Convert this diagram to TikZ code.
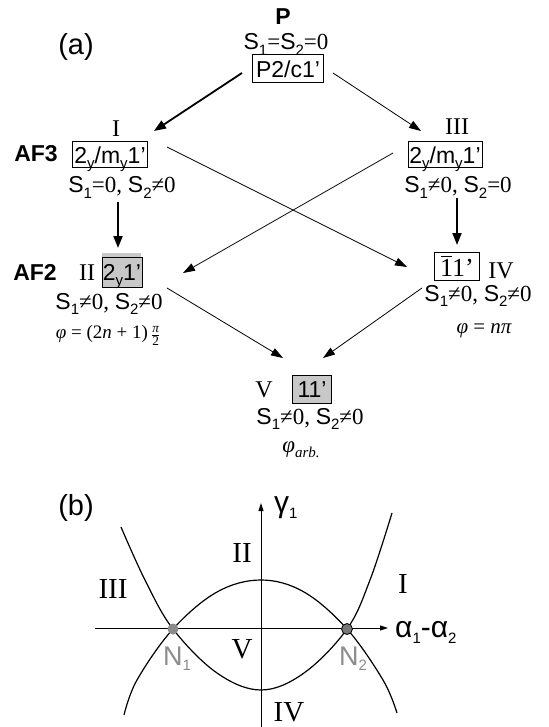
\documentclass[tikz,border=0pt]{standalone}
\usepackage{fontspec}
\usepackage{amsmath}
\setmainfont{Liberation Serif}
\newfontfamily\arial{Liberation Sans}
\usetikzlibrary{arrows.meta}
\newcommand{\lsub}[1]{\raisebox{-0.22em}{\fontsize{15}{15}\selectfont #1}}
\newcommand{\Sx}[1]{{\arial S\lsub{#1}}}
\newcommand{\pihalf}{\,\raisebox{-0.2ex}{$\genfrac{}{}{0.5pt}{1}{\text{\itshape π}}{\text{2}}$}}
\newcommand{\barone}{\makebox[0pt][l]{\hspace{0.04em}\raisebox{0.73em}{\rule{0.42em}{0.8pt}}}1}
\definecolor{boxgray}{HTML}{C8C8C8}
\definecolor{ngray}{HTML}{8A8A8A}
\definecolor{ndark}{HTML}{777777}
\definecolor{lgray}{HTML}{8C8C8C}
\begin{document}
\begin{tikzpicture}[x=1pt,y=-1pt,
  txt/.style={inner sep=0pt, anchor=base, font=\fontsize{23}{27}\selectfont},
  sans/.style={inner sep=0pt, anchor=base, font=\fontsize{23}{27}\selectfont\arial},
  bsans/.style={inner sep=0pt, anchor=base, font=\fontsize{23}{27}\selectfont\arial\bfseries},
  roman/.style={inner sep=0pt, anchor=base, font=\fontsize{24}{28}\selectfont},
  phitxt/.style={inner sep=0pt, anchor=base, font=\fontsize{20}{24}\selectfont},
  sgbox/.style={draw=black, line width=1pt, inner sep=0pt, anchor=center,
     text height=16.5pt, text depth=0pt, font=\fontsize{23}{27}\selectfont\arial},
  graybox/.style={sgbox, fill=boxgray},
  thk/.style={line width=1.8pt, -{Triangle[length=12pt,width=9pt]}},
  thn/.style={line width=0.8pt, -{Triangle[length=12pt,width=8pt]}},
  axis/.style={line width=0.9pt, -{Triangle[length=8pt,width=5pt]}},
  curve/.style={line width=1.2pt},
  blab/.style={inner sep=0pt, anchor=base, font=\fontsize{29}{33}\selectfont},
  bsanslab/.style={inner sep=0pt, anchor=base west, font=\fontsize{30}{34}\selectfont\arial},
  nlab/.style={inner sep=0pt, anchor=base, text=lgray, font=\fontsize{27}{31}\selectfont\arial},
]
\useasboundingbox (0,0) rectangle (548,727);

% ---------------- (a) ----------------
\node[inner sep=0pt, anchor=base, font=\fontsize{29}{33}\selectfont\arial] (la) at (76,55) {(a)};
\node[bsans] (P) at (283,25) {P};
\node[txt] (S0) at (286,50) {\Sx{1}=\Sx{2}=0};
\node[sgbox, minimum width=71pt, minimum height=28pt] (pbox) at (288,69) {P2/c1’};

% I
\node[roman] (nI) at (116,137) {I};
\node[bsans] (AF3) at (36,162) {AF3};
\node[sgbox, minimum width=75pt, minimum height=26pt] (boxI) at (110,155) {2\lsub{y}/m\lsub{y}1’};
\node[txt] (SI) at (122,193) {\Sx{1}=0, \Sx{2}≠0};

% III
\node[roman] (nIII) at (457,135) {III};
\node[sgbox, minimum width=74pt, minimum height=26pt] (boxIII) at (445,155) {2\lsub{y}/m\lsub{y}1’};
\node[txt] (SIII) at (458,193) {\Sx{1}≠0, \Sx{2}=0};

% II
\node[bsans] (AF2) at (35,280) {AF2};
\node[roman] (nII) at (87,280) {II};
\fill[boxgray] (102,253) rectangle (141,258);
\node[graybox, minimum width=40pt, minimum height=30pt] (boxII) at (122,272) {2\lsub{y}1’};
\node[txt] (SII) at (109,309) {\Sx{1}≠0, \Sx{2}≠0};
\node[phitxt, font=\fontsize{19}{23}\selectfont] (phiII) at (108,338) {{\itshape φ} = (2{\itshape n} + 1)\pihalf};

% IV
\node[sgbox, minimum width=45pt, minimum height=28pt, text height=20pt, font=\fontsize{26}{30}\selectfont] (boxIV) at (457,266) {\barone1’};
\node[roman] (nIV) at (501,278) {IV};
\node[txt] (SIV) at (478,301) {\Sx{1}≠0, \Sx{2}≠0};
\node[phitxt, font=\fontsize{21}{25}\selectfont] (phiIV) at (484,333) {{\itshape φ} = {\itshape nπ}};

% V
\node[roman] (nV) at (264,397) {V};
\node[graybox, minimum width=39pt, minimum height=28pt] (boxV) at (312,389) {11’};
\node[txt] (SV) at (310,424) {\Sx{1}≠0, \Sx{2}≠0};
\node[txt] (phiV) at (301,452) {{\itshape φ}\lsub{\itshape arb.}};

% connector end points
\coordinate (a1s) at (242,73);  \coordinate (a1e) at (154,131);
\coordinate (a2s) at (333,73);  \coordinate (a2e) at (421,131);
\coordinate (a3s) at (118,202); \coordinate (a3e) at (118,248);
\coordinate (a4s) at (457,198); \coordinate (a4e) at (457,245);
\coordinate (a5s) at (167,147); \coordinate (a5e) at (407,267);
\coordinate (a6s) at (393,153); \coordinate (a6e) at (183,273);
\coordinate (a7s) at (167,288); \coordinate (a7e) at (283,358);
\coordinate (a8s) at (422,288); \coordinate (a8e) at (323,358);

\draw[thk] (a1s) -- (a1e);
\draw[thn] (a2s) -- (a2e);
\draw[thk] (a3s) -- (a3e);
\draw[thk] (a4s) -- (a4e);
\draw[thn] (a5s) -- (a5e);
\draw[thn] (a6s) -- (a6e);
\draw[thn] (a7s) -- (a7e);
\draw[thn] (a8s) -- (a8e);

% ---------------- (b) ----------------
\node[inner sep=0pt, anchor=base, font=\fontsize{29}{33}\selectfont\arial] (lb) at (76,515) {(b)};
\coordinate (vax0) at (261,727); \coordinate (vax1) at (261,503);
\coordinate (hax0) at (95,628);  \coordinate (hax1) at (388,628);
\draw[axis] (vax0) -- (vax1);
\draw[axis] (hax0) -- (hax1);
\node[bsanslab] (gam) at (274,512) {γ\lsub{1}};
\node[bsanslab] (alp) at (395,637) {α\lsub{1}-α\lsub{2}};

\draw[curve] plot[smooth, tension=0.6] coordinates {(121,527) (145,580) (173,629) (217,673) (261,690) (304,673) (347,629) (370,580) (392,513)};
\draw[curve] plot[smooth, tension=0.6] coordinates {(124,715) (137,680) (173,629) (217,592) (261,580) (304,592) (347,629) (383,680) (397,713)};

\fill[ngray] (173,629) circle (5.5pt);
\filldraw[fill=ndark, draw=black, line width=0.8pt] (347,629) circle (5.5pt);
\node[nlab] (N1) at (177,665) {N\lsub{1}};
\node[nlab] (N2) at (353,665) {N\lsub{2}};

\node[blab] (rII) at (242,562) {II};
\node[blab] (rIII) at (113,598) {III};
\node[blab] (rI) at (403,593) {I};
\node[blab] (rV) at (242,658) {V};
\node[blab] (rIV) at (289,721) {IV};
\end{tikzpicture}
\end{document}
